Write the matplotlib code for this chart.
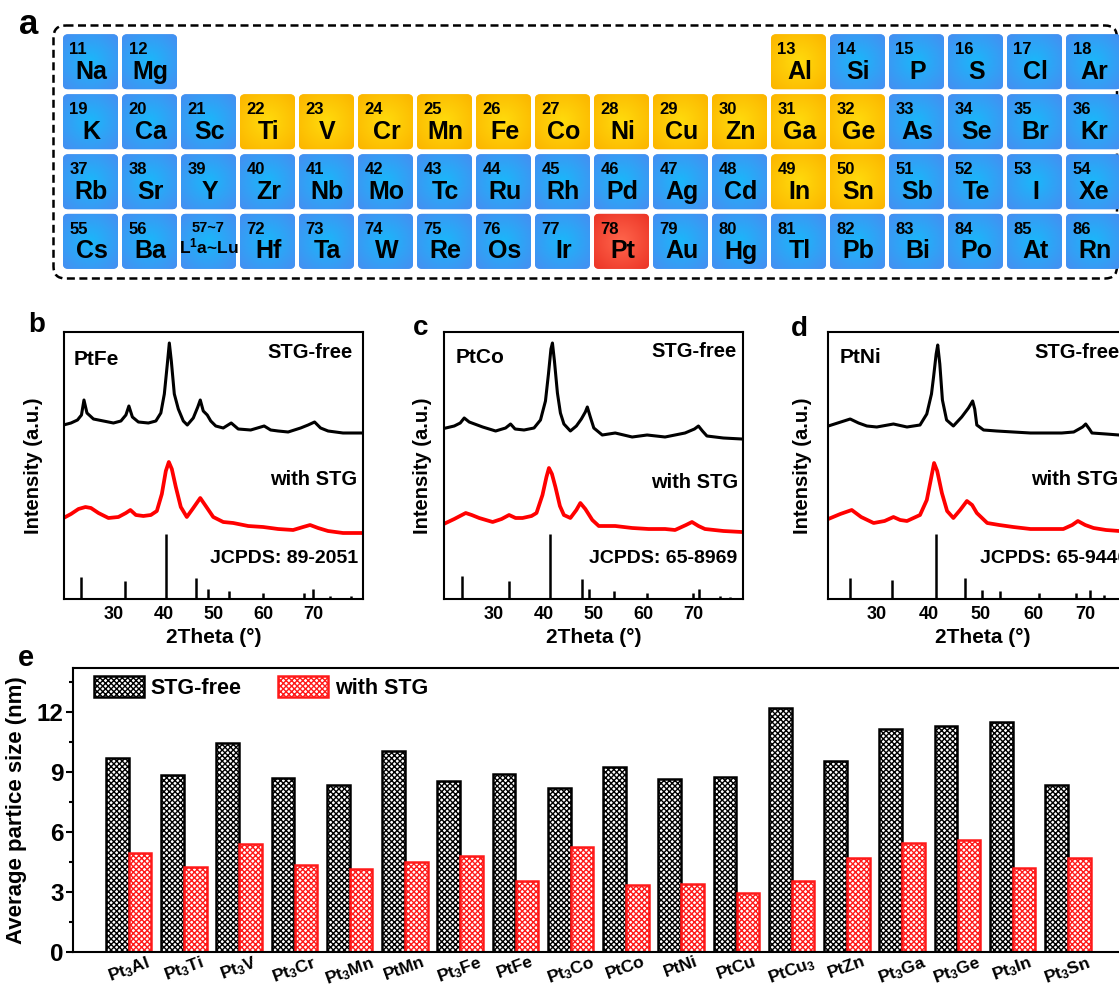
import numpy as np
import matplotlib
matplotlib.use("Agg")
import matplotlib.pyplot as plt
from matplotlib.patches import FancyBboxPatch
from matplotlib.ticker import MultipleLocator

plt.rcParams['font.family'] = ['Liberation Sans', 'DejaVu Sans']
plt.rcParams['font.weight'] = 'bold'
plt.rcParams['axes.labelweight'] = 'bold'
plt.rcParams['mathtext.default'] = 'regular'
plt.rcParams['hatch.linewidth'] = 1.0

# ---------------- data: periodic table ----------------
row1_sym = ['Na', 'Mg', 'Al', 'Si', 'P', 'S', 'Cl', 'Ar']
row1_num = ['11', '12', '13', '14', '15', '16', '17', '18']
row1_col = [1, 2, 13, 14, 15, 16, 17, 18]
row2_sym = ['K', 'Ca', 'Sc', 'Ti', 'V', 'Cr', 'Mn', 'Fe', 'Co', 'Ni', 'Cu', 'Zn', 'Ga', 'Ge', 'As', 'Se', 'Br', 'Kr']
row2_num = [str(n) for n in range(19, 37)]
row3_sym = ['Rb', 'Sr', 'Y', 'Zr', 'Nb', 'Mo', 'Tc', 'Ru', 'Rh', 'Pd', 'Ag', 'Cd', 'In', 'Sn', 'Sb', 'Te', 'I', 'Xe']
row3_num = [str(n) for n in range(37, 55)]
row4_sym = ['Cs', 'Ba', 'L$^{1}$a~Lu', 'Hf', 'Ta', 'W', 'Re', 'Os', 'Ir', 'Pt', 'Au', 'Hg', 'Tl', 'Pb', 'Bi', 'Po', 'At', 'Rn']
row4_num = ['55', '56', '57~7'] + [str(n) for n in range(72, 87)]
full_cols = list(range(1, 19))
highlighted = ['Al', 'Ti', 'V', 'Cr', 'Mn', 'Fe', 'Co', 'Ni', 'Cu', 'Zn', 'Ga', 'Ge', 'In', 'Sn']
center_el = ['Pt']
small_cells = ['L$^{1}$a~Lu']

# ---------------- data: XRD (2theta in deg, intensity a.u.) ----------------
b_free_x = [20.0, 21.5, 22.8, 23.6, 24.1, 24.7, 26.0, 28.0, 30.0, 31.5, 32.5, 33.1, 33.8, 35.0, 37.0, 38.5, 39.5,
            40.2, 40.8, 41.2, 41.6, 42.2, 43.0, 44.0, 44.8, 46.0, 46.9, 47.4, 48.0, 48.8, 49.5, 50.5, 52.0, 53.6,
            55.0, 57.5, 60.2, 61.5, 63.0, 65.0, 67.5, 69.0, 70.3, 71.5, 73.0, 76.0, 80.0]
b_free_y = [174, 176, 179, 184, 199, 186, 180, 178, 176, 178, 184, 193, 182, 177, 176, 178, 186,
            205, 235, 256, 238, 205, 190, 178, 174, 181, 192, 199, 188, 184, 178, 173, 171, 176,
            170, 169, 173, 169, 168, 167, 171, 174, 177, 171, 168, 166, 166]
b_stg_x = [20.0, 21.5, 23.0, 24.4, 25.5, 27.0, 29.0, 31.0, 32.5, 33.4, 34.5, 36.0, 37.5, 38.7, 39.7, 40.5, 41.1,
           41.7, 42.5, 43.5, 44.7, 46.0, 47.4, 48.5, 50.0, 52.0, 54.0, 57.0, 60.0, 63.0, 66.0, 68.0, 69.4, 71.0,
           73.0, 76.0, 80.0]
b_stg_y = [81, 85, 90, 92, 91, 86, 81, 82, 86, 89, 84, 83, 84, 88, 105, 128, 137,
           130, 112, 92, 82, 91, 101, 93, 82, 77, 76, 73, 72, 70, 69, 72, 74, 71,
           68, 66, 66]
b_ref_x = [23.6, 32.4, 40.6, 46.6, 48.9, 53.1, 59.9, 68.1, 69.9, 73.4, 77.6]
b_ref_h = [21.7, 18.3, 64.7, 21.3, 9.7, 8.3, 5.7, 5.7, 9.7, 3.0, 3.0]

c_free_x = [20.3, 22.0, 23.2, 24.0, 25.0, 27.7, 30.3, 32.3, 33.3, 34.2, 36.0, 38.0, 39.3, 40.3, 40.9, 41.4, 41.7,
            42.1, 42.7, 43.3, 44.0, 45.3, 46.5, 47.5, 48.3, 48.7, 49.3, 50.0, 51.7, 54.3, 57.7, 60.7, 64.3, 68.3,
            70.2, 71.0, 71.8, 72.7, 76.0, 79.7]
c_free_y = [171, 173, 176, 181, 177, 172, 168, 171, 175, 170, 169, 171, 179, 198, 225, 250, 256,
            238, 206, 186, 175, 168, 173, 180, 187, 192, 182, 171, 164, 166, 162, 164, 162, 166,
            170, 173, 168, 163, 161, 160]
c_stg_x = [20.3, 22.0, 24.3, 25.5, 27.0, 29.7, 31.5, 33.0, 34.3, 35.7, 37.5, 38.5, 39.7, 40.5, 41.0, 41.6, 42.3,
           43.2, 44.0, 45.3, 46.5, 47.3, 48.3, 49.7, 51.0, 54.3, 57.7, 61.0, 64.3, 66.3, 68.5, 69.7, 71.0, 72.3,
           76.0, 79.7]
c_stg_y = [76, 80, 86, 84, 81, 77, 80, 84, 81, 81, 83, 86, 104, 122, 131, 125, 112,
           93, 84, 81, 89, 96, 90, 79, 73, 73, 71, 70, 70, 69, 74, 77, 73, 70,
           68, 67]
c_ref_x = [23.5, 32.9, 41.3, 47.7, 49.1, 54.1, 60.7, 70.0, 71.1, 75.3, 77.3]
c_ref_h = [23.0, 18.3, 64.7, 20.3, 9.7, 8.3, 5.7, 5.7, 9.7, 3.0, 1.7]

d_free_x = [20.7, 22.5, 24.9, 26.5, 28.1, 30.0, 33.2, 35.8, 38.3, 39.6, 40.5, 40.9, 41.4, 41.7, 42.1, 42.6, 43.4,
            44.7, 46.3, 47.6, 48.4, 48.8, 49.2, 50.5, 53.0, 56.2, 59.5, 62.6, 65.5, 67.8, 69.5, 70.1, 70.8, 71.3,
            74.0, 76.5, 80.0]
d_free_y = [173, 176, 180, 176, 173, 172, 175, 172, 174, 185, 205, 222, 245, 254, 235, 199, 179,
            173, 182, 191, 198, 190, 174, 169, 168, 167, 166, 166, 166, 167, 172, 175, 170, 166,
            165, 164, 164]
d_stg_x = [20.7, 23.0, 25.2, 27.0, 29.4, 31.5, 33.2, 34.5, 35.8, 38.3, 39.6, 40.4, 41.0, 41.6, 42.5, 43.5, 44.7,
           46.0, 47.3, 48.3, 49.2, 51.2, 53.5, 56.2, 59.5, 62.6, 65.8, 67.5, 68.6, 70.0, 71.6, 74.0, 76.5, 80.0]
d_stg_y = [80, 85, 89, 82, 76, 78, 82, 79, 78, 84, 99, 120, 136, 128, 106, 88, 81,
           89, 98, 94, 86, 76, 74, 72, 70, 70, 70, 74, 78, 74, 71, 69, 68, 68]
d_ref_x = [24.9, 33.0, 41.4, 47.0, 50.2, 53.6, 61.1, 68.3, 70.9, 73.6]
d_ref_h = [21.3, 19.0, 64.7, 21.3, 9.0, 8.3, 5.7, 5.7, 9.0, 3.7]

xrd_ticks = [30, 40, 50, 60, 70]

# ---------------- data: particle size ----------------
alloys = ['Pt$_3$Al', 'Pt$_3$Ti', 'Pt$_3$V', 'Pt$_3$Cr', 'Pt$_3$Mn', 'PtMn', 'Pt$_3$Fe', 'PtFe', 'Pt$_3$Co',
          'PtCo', 'PtNi', 'PtCu', 'PtCu$_3$', 'PtZn', 'Pt$_3$Ga', 'Pt$_3$Ge', 'Pt$_3$In', 'Pt$_3$Sn']
size_free = [9.67, 8.83, 10.45, 8.68, 8.35, 10.03, 8.55, 8.90, 8.18, 9.25, 8.65, 8.73, 12.20, 9.52, 11.15, 11.27, 11.48, 8.33]
size_stg = [4.95, 4.28, 5.40, 4.35, 4.15, 4.53, 4.78, 3.57, 5.25, 3.35, 3.43, 2.98, 3.55, 4.70, 5.43, 5.60, 4.23, 4.70]

# ---------------- figure ----------------
W, H = 1119, 989
fig = plt.figure(figsize=(W / 100, H / 100), dpi=100)


def px_axes(left, top, right, bottom):
    return fig.add_axes([left / W, 1 - bottom / H, (right - left) / W, (bottom - top) / H])


def ftext(x, y, s, **kw):
    kw.setdefault('va', 'baseline')
    kw.setdefault('fontweight', 'bold')
    return fig.text(x / W, 1 - y / H, s, **kw)


# ---------------- panel a ----------------
ax_a = fig.add_axes([0, 1 - 290 / H, 1, 290 / H])
ax_a.axis('off')

yy, xx = np.mgrid[-1:1:48j, -1:1:48j]
rr = np.clip(np.sqrt(xx ** 2 + yy ** 2) / 1.3, 0, 1)
palette = {
    'blue': (np.array([0.10, 0.72, 0.98]), np.array([0.26, 0.57, 0.95])),
    'yellow': (np.array([1.00, 0.86, 0.05]), np.array([0.99, 0.72, 0.00])),
    'red': (np.array([1.00, 0.40, 0.30]), np.array([0.93, 0.22, 0.16])),
}
row_tops = [34.3, 94.3, 154.3, 213.8]
cell = 55.0


def draw_cell(sym, num, col, row):
    x0 = 63 + 59 * (col - 1)
    y0 = row_tops[row]
    kind = 'red' if sym in center_el else ('yellow' if sym in highlighted else 'blue')
    c_in, c_out = palette[kind]
    img = c_in[None, None, :] * (1 - rr[..., None]) + c_out[None, None, :] * rr[..., None]
    patch = FancyBboxPatch((x0, y0), cell, cell, boxstyle='round,pad=0,rounding_size=5',
                           facecolor=c_out, edgecolor='none', zorder=2)
    ax_a.add_patch(patch)
    im = ax_a.imshow(img, extent=(x0, x0 + cell, y0 + cell, y0), interpolation='bilinear',
                     aspect='auto', zorder=2)
    im.set_clip_path(patch)
    if sym in small_cells:
        ax_a.text(x0 + 27, y0 + 18, num, fontsize=10.5, ha='center', va='baseline', zorder=3)
        ax_a.text(x0 + 27.5, y0 + 39.5, sym, fontsize=12.5, ha='center', va='baseline', zorder=3)
    else:
        ax_a.text(x0 + 6.5, y0 + 19.7, num, fontsize=12, ha='left', va='baseline', zorder=3)
        ax_a.text(x0 + 28.5, y0 + 44.7, sym, fontsize=18, ha='center', va='baseline', zorder=3)


for s, n, c in zip(row1_sym, row1_num, row1_col):
    draw_cell(s, n, c, 0)
for s, n, c in zip(row2_sym, row2_num, full_cols):
    draw_cell(s, n, c, 1)
for s, n, c in zip(row3_sym, row3_num, full_cols):
    draw_cell(s, n, c, 2)
for s, n, c in zip(row4_sym, row4_num, full_cols):
    draw_cell(s, n, c, 3)

box = FancyBboxPatch((53.5, 25.5), 1117 - 53.5, 253, boxstyle='round,pad=0,rounding_size=12',
                     fill=False, edgecolor='black', lw=1.8, linestyle=(0, (3.2, 1.8)), zorder=1)
ax_a.add_patch(box)
ax_a.set_xlim(0, W)
ax_a.set_ylim(290, 0)

# ---------------- panels b-d ----------------


def xrd_panel(left, right, xlim, free_x, free_y, stg_x, stg_y, ref_x, ref_h, ylab_x):
    ax = px_axes(left, 331.7, right, 599)
    ax.plot(free_x, free_y, color='black', lw=2.2, solid_joinstyle='round')
    ax.plot(stg_x, stg_y, color='#ff0000', lw=2.7, solid_joinstyle='round')
    ax.vlines(ref_x, 0, ref_h, colors='black', lw=1.8)
    ax.set_xlim(*xlim)
    ax.set_ylim(0, 267.3)
    ax.set_yticks([])
    ax.set_xticks(xrd_ticks)
    ax.tick_params(axis='x', length=0, pad=5, labelsize=13)
    for lab in ax.get_xticklabels():
        lab.set_fontweight('bold')
    for sp in ax.spines.values():
        sp.set_linewidth(1.5)
    ax.set_xlabel('2Theta (°)', fontsize=15, fontweight='bold')
    ax.xaxis.set_label_coords(0.5, -(628 - 599) / 267.3)
    ax.set_ylabel('Intensity (a.u.)', fontsize=14.5, fontweight='bold')
    ax.yaxis.set_label_coords(ylab_x, 0.5)
    return ax


ax_b = xrd_panel(63.5, 363, (20, 80), b_free_x, b_free_y, b_stg_x, b_stg_y, b_ref_x, b_ref_h,
                 (43 - 63.5) / 299.5)
ax_c = xrd_panel(444.3, 743.3, (20, 80), c_free_x, c_free_y, c_stg_x, c_stg_y, c_ref_x, c_ref_h,
                 (432 - 444.3) / 299)
ax_d = xrd_panel(828.3, 1137.3, (20.7, 80), d_free_x, d_free_y, d_stg_x, d_stg_y, d_ref_x, d_ref_h,
                 (812 - 828.3) / 309)

ftext(74, 365, 'PtFe', fontsize=15)
ftext(353, 358, 'STG-free', fontsize=14.5, ha='right')
ftext(357.5, 485, 'with STG', fontsize=14.5, ha='right')
ftext(358.5, 563, 'JCPDS: 89-2051', fontsize=14, ha='right')

ftext(456, 363, 'PtCo', fontsize=15)
ftext(737, 357, 'STG-free', fontsize=14.5, ha='right')
ftext(738.5, 488, 'with STG', fontsize=14.5, ha='right')
ftext(737.5, 563, 'JCPDS: 65-8969', fontsize=14, ha='right')

ftext(839.5, 363, 'PtNi', fontsize=15)
ftext(1034, 358, 'STG-free', fontsize=14.5, ha='left')
ftext(1031.5, 485, 'with STG', fontsize=14.5, ha='left')
ftext(979.5, 563, 'JCPDS: 65-9446', fontsize=14, ha='left')

# ---------------- panel e ----------------
ax_e = px_axes(73.3, 667.7, 1123, 952.3)
xpos = np.arange(len(alloys))
bw = 0.41
bars_free = ax_e.bar(xpos - 0.205, size_free, bw, facecolor='white', edgecolor='black',
                     hatch='xxxxxx', lw=1.8, label='STG-free', zorder=2)
bars_stg = ax_e.bar(xpos + 0.21, size_stg, bw, facecolor='white', edgecolor='#ff1a1a',
                    hatch='xxxxxx', lw=1.8, label='with STG', zorder=2)
ax_e.set_xlim(-1.0, 18.0)
ax_e.set_ylim(0, 14.2)
ax_e.set_xticks(xpos)
ax_e.set_xticklabels(alloys, rotation=20, ha='center', fontsize=12.5, fontweight='bold')
ax_e.tick_params(axis='x', length=0, pad=1)
ax_e.yaxis.set_major_locator(MultipleLocator(3))
ax_e.yaxis.set_minor_locator(MultipleLocator(1.5))
ax_e.tick_params(axis='y', which='major', direction='out', length=5, width=1.5, labelsize=17.5, pad=2)
ax_e.tick_params(axis='y', which='minor', direction='out', length=3, width=1.5)
for lab in ax_e.get_yticklabels():
    lab.set_fontweight('bold')
for sp in ax_e.spines.values():
    sp.set_linewidth(1.5)
ax_e.set_ylabel('Average partice size (nm)', fontsize=16, fontweight='bold')
ax_e.yaxis.set_label_coords((27 - 73.3) / 1049.7, 0.5)
ax_e.legend(loc='upper left', bbox_to_anchor=(94 / W, 1 - 676 / H), bbox_transform=fig.transFigure,
            ncol=2, frameon=False, handlelength=2.33, handleheight=1.12, handletextpad=0.3,
            columnspacing=1.7, borderpad=0, borderaxespad=0,
            prop={'size': 15.5, 'weight': 'bold'})

# ---------------- panel labels ----------------
ftext(19, 33.5, 'a', fontsize=25)
ftext(28, 332, 'b', fontsize=20)
ftext(413, 335, 'c', fontsize=20)
ftext(791, 336.5, 'd', fontsize=20)
ftext(18, 666.5, 'e', fontsize=21)

fig.savefig('out.png', dpi=100)
